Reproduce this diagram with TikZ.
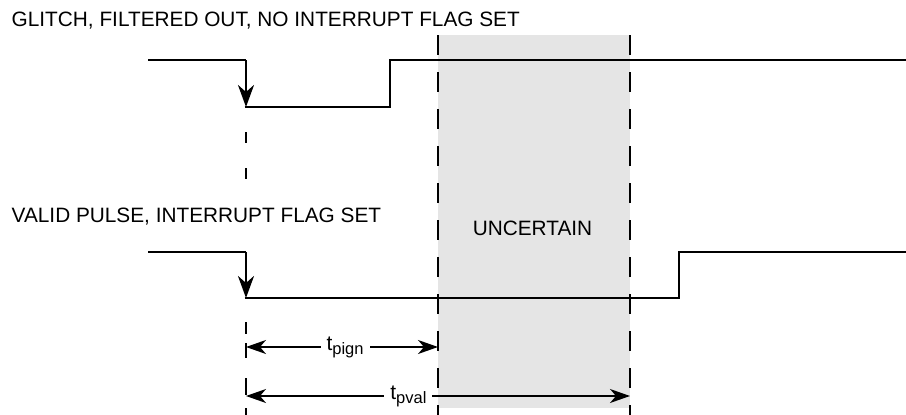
\documentclass[tikz,border=0pt]{standalone}
\usepackage{fontspec}
\setmainfont{Liberation Sans}
\usetikzlibrary{arrows.meta}
\begin{document}
\begin{tikzpicture}[x=1pt,y=-1pt,
  wave/.style={line width=2.6pt,line join=miter,line cap=butt},
  edgearrow/.style={line width=2.6pt,-{Stealth[length=22pt,width=16pt,inset=7pt]}},
  guide/.style={line width=1.3pt,dash pattern=on 20pt off 17pt},
  dim/.style={line width=1.3pt,{Stealth[length=20pt,width=14pt,inset=6pt]}-{Stealth[length=20pt,width=14pt,inset=6pt]}},
  lbl/.style={font=\fontsize{20.8}{24}\selectfont,inner sep=0pt,anchor=base west},
  tlbl/.style={font=\fontsize{21}{24}\selectfont,fill=white,inner xsep=6pt,inner ysep=2pt}
]
\useasboundingbox (0,0) rectangle (906,415);
% uncertain region
\fill[fill={rgb,255:red,229;green,229;blue,229}] (438,35) rectangle (630,408);
\node[font=\fontsize{20.8}{24}\selectfont,inner sep=0pt,anchor=base] (unc) at (532.5,235) {UNCERTAIN};
% guide lines
\coordinate (g1t) at (438,35); \coordinate (g1b) at (438,415);
\coordinate (g2t) at (630,35); \coordinate (g2b) at (630,415);
\draw[guide] (g1t) -- (g1b);
\draw[guide] (g2t) -- (g2b);
\coordinate (g0a) at (246,132); \coordinate (g0b) at (246,182);
\coordinate (g0c) at (246,322); \coordinate (g0d) at (246,415);
\draw[line width=1.3pt,dash pattern=on 11pt off 25pt] (g0a) -- (g0b);
\draw[line width=1.3pt,dash pattern=on 12pt off 9pt on 15pt off 20pt on 17pt off 13pt] (g0c) -- (g0d);
% labels
\node[lbl] (l1) at (11.5,27) {GLITCH, FILTERED OUT, NO INTERRUPT FLAG SET};
\node[lbl] (l2) at (11.5,222) {VALID PULSE, INTERRUPT FLAG SET};
% top waveform
\coordinate (a0) at (148,60); \coordinate (a1) at (246,60);
\coordinate (a2) at (246,107); \coordinate (a3) at (390,107);
\coordinate (a4) at (390,60); \coordinate (a5) at (906,60);
\draw[wave] (a0) -- (a1);
\draw[edgearrow] (a1) -- (a2);
\draw[wave] ([xshift=-1.3pt]a2) -- (a3) -- (a4) -- (a5);
% bottom waveform
\coordinate (b0) at (148,252); \coordinate (b1) at (246,252);
\coordinate (b2) at (246,298); \coordinate (b3) at (679,298);
\coordinate (b4) at (679,252); \coordinate (b5) at (906,252);
\draw[wave] (b0) -- (b1);
\draw[edgearrow] (b1) -- (b2);
\draw[wave] ([xshift=-1.3pt]b2) -- (b3) -- (b4) -- (b5);
% dimensions
\coordinate (d1a) at (246,347); \coordinate (d1b) at (438,347);
\coordinate (d2a) at (246,396); \coordinate (d2b) at (630,396);
\draw[dim] (d1a) -- (d1b) node[tlbl,pos=0.516] (tp) {t\raisebox{-4pt}{\fontsize{16.5}{18}\selectfont pign}};
\draw[dim] (d2a) -- (d2b) node[tlbl,pos=0.423] (tv) {t\raisebox{-4pt}{\fontsize{16.5}{18}\selectfont pval}};
\end{tikzpicture}
\end{document}
